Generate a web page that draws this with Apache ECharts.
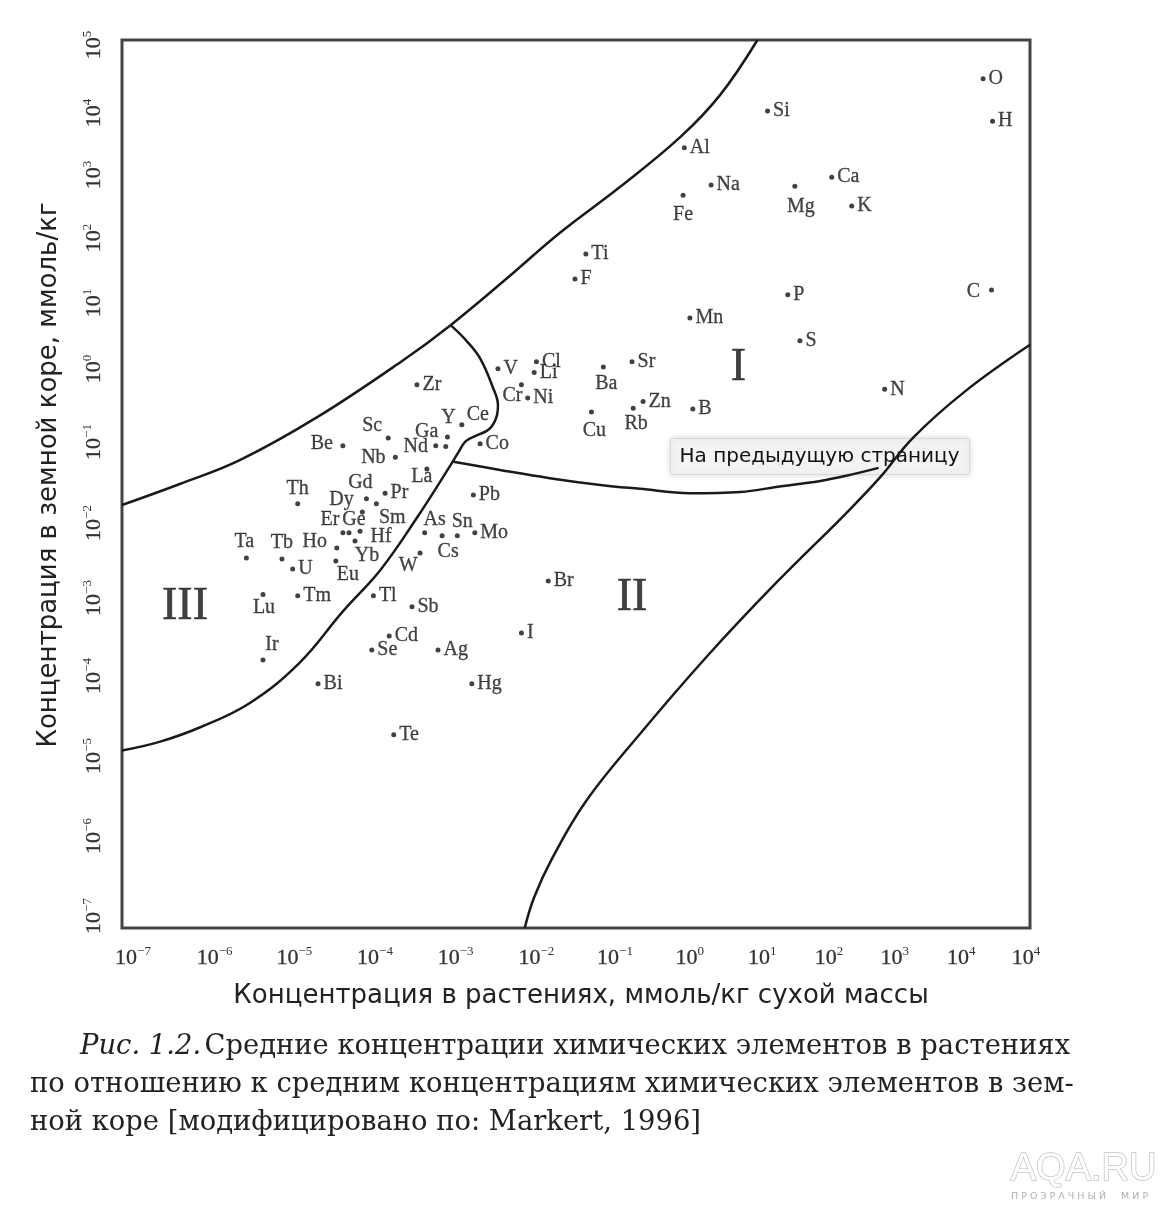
<!DOCTYPE html>
<html>
<head>
<meta charset="utf-8">
<script src="https://cdn.jsdelivr.net/npm/echarts@6/dist/echarts.min.js"></script>
<style>
  html, body { margin: 0; padding: 0; background: #fff; }
  #chart { width: 1172px; height: 1206px; }
</style>
</head>
<body>
<div id="chart"></div>
<script>
// elements, plant concentration (x) and crust concentration (y), mmol/kg
const elements = ['O','H','C','Si','Al','Na','Fe','Mg','Ca','K','Ti','F','P','Mn','S','N',
  'V','Cl','Li','Cr','Ni','Ba','Sr','Zn','Rb','Cu','B','Br','I',
  'Zr','Sc','Be','Nb','Nd','Ga','Y','Ce','Co','La','Pr','Gd','Dy','Th','Sm','Er','Ge','Yb','Hf',
  'Ho','Ta','Tb','U','Eu','W','As','Cs','Sn','Mo','Pb','Tl','Tm','Lu','Ir','Bi','Sb','Cd','Se','Ag','Hg','Te'];
const plantConc = [2.4e4, 3.2e4, 3.1e4, 34, 2.7, 6.1, 2.6, 78, 240, 440, 0.135, 0.097, 63, 3.2, 91, 1.2e3,
  0.0093, 0.030, 0.028, 0.019, 0.023, 0.23, 0.55, 0.77, 0.57, 0.16, 3.5, 0.043, 0.019,
  7.9e-4, 3.3e-4, 8.3e-5, 4.1e-4, 1.4e-3, 1.9e-3, 2.0e-3, 3.1e-3, 5.4e-3, 1.07e-3, 3.0e-4, 2.3e-4, 1.7e-4, 2.1e-5, 1.5e-4, 8.3e-5, 1.0e-4, 1.4e-4, 1.2e-4,
  6.9e-5, 4.4e-6, 1.3e-5, 1.8e-5, 6.7e-5, 8.7e-4, 1.0e-3, 1.7e-3, 2.7e-3, 4.6e-3, 4.4e-3, 2.1e-4, 2.1e-5, 7.3e-6, 7.3e-6, 3.9e-5, 6.8e-4, 3.4e-4, 2.0e-4, 1.5e-3, 4.2e-3, 3.9e-4];
const crustConc = [3.0e4, 8.0e3, 42, 1.1e4, 3.5e3, 1.1e3, 800, 1.06e3, 1.4e3, 570, 128, 59, 36, 17.5, 8.6, 1.9,
  3.6, 4.5, 3.2, 2.2, 1.45, 3.8, 4.5, 1.3, 1.06, 0.94, 1.03, 0.0049, 9.7e-4,
  2.2, 0.42, 0.33, 0.23, 0.33, 0.32, 0.43, 0.63, 0.35, 0.16, 0.075, 0.054, 0.063, 0.054, 0.042, 0.022, 0.022, 0.023, 0.017,
  0.0136, 0.010, 0.0097, 0.0071, 0.0091, 0.0117, 0.022, 0.020, 0.020, 0.022, 0.071, 0.0031, 0.0031, 0.0032, 4.2e-4, 2.0e-4, 0.0022, 8.8e-4, 5.7e-4, 5.7e-4, 2.0e-4, 4.1e-5];

// boundary curves, [plant, crust] pairs
const upperBoundary = [[1e-7, 0.052], [5.8e-7, 0.10], [3.6e-6, 0.21], [3.8e-5, 0.80], [5.2e-4, 4.7],
  [2.2e-3, 14], [0.0115, 57], [0.062, 250], [0.38, 1030], [2.4, 4900], [8.0, 18000], [25, 1e5]];
const boundaryIII = [[2.2e-3, 14], [3.5e-3, 8.8], [5.4e-3, 5.0], [8.0e-3, 2.0], [9.3e-3, 1.17], [8.8e-3, 0.78],
  [7.1e-3, 0.55], [4.8e-3, 0.45], [3.5e-3, 0.38], [2.8e-3, 0.27], [2.2e-3, 0.18], [7.9e-4, 0.035],
  [2.6e-4, 6.9e-3], [8.3e-5, 1.9e-3], [2.2e-5, 3.8e-4], [4.9e-6, 1.1e-4], [1.1e-6, 5.2e-5], [3.2e-7, 3.3e-5], [1e-7, 2.5e-5]];
const boundaryI_II = [[2.4e-3, 0.20], [9.9e-3, 0.155], [0.045, 0.12], [0.21, 0.097], [0.70, 0.086], [3.2, 0.075],
  [15, 0.078], [44, 0.091], [170, 0.11], [360, 0.128], [1000, 0.165]];
const boundaryII = [[0.021, 1e-7], [0.028, 2.6e-7], [0.048, 8.6e-7], [0.136, 5.2e-6], [0.66, 3.9e-5], [5.4, 4.7e-4],
  [44, 4.6e-3], [360, 0.039], [1000, 0.117], [2900, 0.43], [14000, 1.8], [1e5, 7.6]];

const regionNames = ['I', 'II', 'III'];
const regionPlant = [14, 0.55, 6.8e-7];
const regionCrust = [3.7, 2.9e-3, 2.2e-3];

// tick label exponents (the scan prints 10^4 twice at the right end)
const xTickExp = ['−7','−6','−5','−4','−3','−2','−1','0','1','2','3','4','4'];
const yTickExp = ['−7','−6','−5','−4','−3','−2','−1','0','1','2','3','4','5'];

// label layout (offsets of label centre from its dot), default is right of the dot
const labelOffset = {
  C: [-18, 2], Fe: [0, 20], Mg: [6, 21], Ba: [3, 17], Rb: [3, 16], Cu: [3, 19], Cr: [-9, 11],
  Sc: [-16, -12], Be: [-21, -2], Nb: [-22, 1], Nd: [-20, 1], Ga: [-19, -15], Y: [1, -19], Ce: [16, -10],
  La: [-5, 8], Gd: [-16, -21], Dy: [-25, 1], Th: [0, -15], Er: [-13, -13], Ge: [5, -13], Sm: [30, 6],
  Hf: [26, -4], Yb: [7, 25], Ho: [-22, -6], Ta: [-2, -16], Tb: [0, -16], Eu: [12, 14], W: [-12, 13],
  As: [10, -13], Sn: [5, -14], Cs: [6, 16], Lu: [1, 13], Ir: [9, -15]
};
// per-tick nudge of printed tick labels along the axis (the scan's labels drift from the ticks)
const xLabelShift = [11, 17, 21, 26, 31, 36, 39, 38, 35, 26, 16, 7, -4];
const yLabelShift = [12, 18, 24, 30, 34, 35, 42, 41, 33, 24, 13, 1, -5];

const serif = 'Liberation Serif';

function tickRich(prefix, shifts) {
  const rich = {};
  shifts.forEach((s, i) => {
    rich[prefix + 'b' + i] = {
      fontFamily: serif, fontSize: 22, color: '#333', lineHeight: 24, verticalAlign: 'bottom',
      textBorderColor: '#333', textBorderWidth: 0.3,
      padding: [0, 0, 0, s > 0 ? 2 * s : 0]
    };
    rich[prefix + 's' + i] = {
      fontFamily: serif, fontSize: 13, color: '#333', lineHeight: 13, verticalAlign: 'top',
      padding: [0, s < 0 ? -2 * s : 0, 0, 0]
    };
  });
  return rich;
}
function tickFormatter(prefix, exps) {
  return function (v) {
    const i = Math.round(Math.log10(v)) + 7;
    return '{' + prefix + 'b' + i + '|10}{' + prefix + 's' + i + '|' + exps[i] + '}';
  };
}

const pointData = elements.map((name, i) => {
  const item = { name: name, value: [plantConc[i], crustConc[i]] };
  const off = labelOffset[name];
  if (off) item.label = { position: 'inside', offset: off, align: 'center', verticalAlign: 'middle' };
  return item;
});

const curveStyle = { color: '#1a1a1a', width: 2.5 };
function curve(data) {
  return { type: 'line', data: data, smooth: 0.4, symbol: 'none', lineStyle: curveStyle, silent: true, z: 2 };
}

const chart = echarts.init(document.getElementById('chart'));
chart.setOption({
  animation: false,
  backgroundColor: '#fff',
  grid: { left: 122, top: 40, width: 908, height: 888, show: true, borderColor: '#444', borderWidth: 3 },
  xAxis: {
    type: 'log', logBase: 10, min: 1e-7, max: 1e5, interval: 1, splitNumber: 12,
    axisLine: { show: false }, axisTick: { show: false }, splitLine: { show: false }, minorTick: { show: false },
    axisLabel: { margin: 17, showMinLabel: true, showMaxLabel: true, hideOverlap: false,
      formatter: tickFormatter('x', xTickExp), rich: tickRich('x', xLabelShift) },
    name: 'Концентрация в растениях, ммоль/кг сухой массы',
    nameLocation: 'middle', nameGap: 55,
    nameTextStyle: { fontFamily: 'DejaVu Sans', fontSize: 26, color: '#222', padding: [0, 0, 0, 10] }
  },
  yAxis: {
    type: 'log', logBase: 10, min: 1e-7, max: 1e5, interval: 1, splitNumber: 12,
    axisLine: { show: false }, axisTick: { show: false }, splitLine: { show: false }, minorTick: { show: false },
    axisLabel: { rotate: 90, margin: 17, showMinLabel: true, showMaxLabel: true, hideOverlap: false,
      formatter: tickFormatter('y', yTickExp), rich: tickRich('y', yLabelShift) },
    name: 'Концентрация в земной коре, ммоль/кг',
    nameLocation: 'middle', nameGap: 60, nameRotate: 90,
    nameTextStyle: { fontFamily: 'DejaVu Sans', fontSize: 26, color: '#222', padding: [0, 0, 0, 18] }
  },
  series: [
    curve(upperBoundary),
    curve(boundaryIII),
    curve(boundaryI_II),
    curve(boundaryII),
    {
      type: 'scatter', data: pointData, symbol: 'circle', symbolSize: 5, z: 3,
      itemStyle: { color: '#111' },
      label: { show: true, formatter: '{b}', position: 'right', distance: 3,
        fontFamily: serif, fontSize: 20, color: '#151515', textBorderColor: '#151515', textBorderWidth: 0.3 }
    },
    {
      type: 'scatter', symbol: 'circle', symbolSize: 1, z: 3,
      itemStyle: { color: 'rgba(0,0,0,0)' },
      data: regionNames.map((n, i) => ({ name: n, value: [regionPlant[i], regionCrust[i]] })),
      label: { show: true, formatter: '{b}', position: 'inside',
        fontFamily: serif, fontSize: 46, color: '#111', textBorderColor: '#111', textBorderWidth: 0.6 }
    }
  ],
  graphic: [
    { type: 'group', left: 670, top: 438, z: 100, children: [
      { type: 'rect', shape: { x: 0, y: 0, width: 299, height: 36, r: 2 },
        style: { fill: '#f3f3f3', stroke: '#d8d8d8', lineWidth: 1, shadowBlur: 6, shadowColor: 'rgba(0,0,0,0.15)' } },
      { type: 'text', x: 9, y: 18,
        style: { text: 'На предыдущую страницу', font: '20px "DejaVu Sans"', fill: '#111', textVerticalAlign: 'middle' } }
    ]},
    { type: 'text', left: 80, top: 1033, z: 100,
      style: { text: '{i|Рис. 1.2.} {n|Средние концентрации химических элементов в растениях}',
        rich: { i: { fontFamily: 'DejaVu Serif', fontStyle: 'italic', fontSize: 27.4, fill: '#222' },
                n: { fontFamily: 'DejaVu Serif', fontSize: 27.4, fill: '#222' } } } },
    { type: 'text', left: 30, top: 1071, z: 100,
      style: { text: 'по отношению к средним концентрациям химических элементов в зем-',
        font: '27.4px "DejaVu Serif"', fill: '#222' } },
    { type: 'text', left: 30, top: 1109, z: 100,
      style: { text: 'ной коре [модифицировано по: Markert, 1996]',
        font: '27.4px "DejaVu Serif"', fill: '#222' } },
    { type: 'text', left: 1010, top: 1150, z: 100,
      style: { text: 'AQA.RU', font: '38px "Liberation Sans"', fill: '#fff', stroke: '#c4c4c4', lineWidth: 1.5 } },
    { type: 'text', left: 1011, top: 1192, z: 100,
      style: { text: 'П Р О З Р А Ч Н Ы Й     М И Р', font: '9.5px "DejaVu Sans"', fill: '#b0b0b0' } }
  ]
});
</script>
</body>
</html>
